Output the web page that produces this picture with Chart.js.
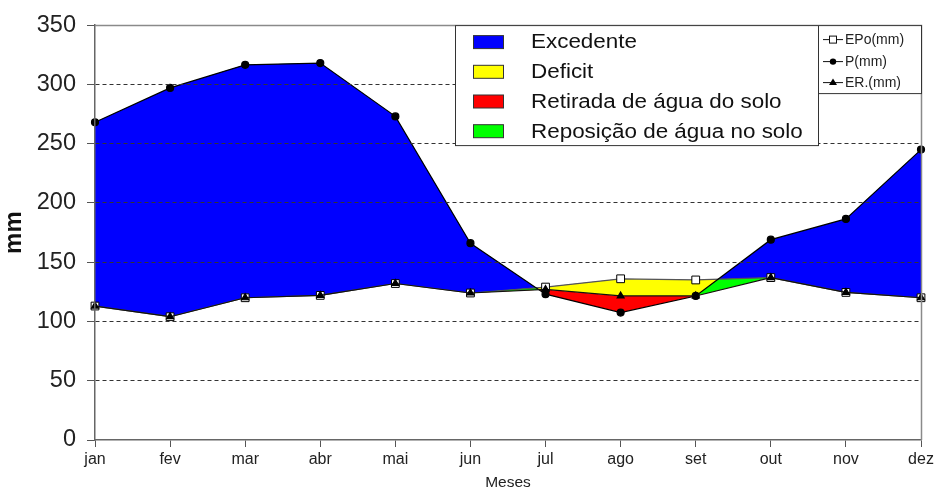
<!DOCTYPE html>
<html>
<head>
<meta charset="utf-8">
<script src="https://cdn.jsdelivr.net/npm/chart.js@4.4.1/dist/chart.umd.min.js"></script>
<style>
  html, body { margin: 0; padding: 0; background: #fff; }
  #wrap { width: 942px; height: 490px; }
</style>
</head>
<body>
<div id="wrap"><canvas id="c" width="942" height="490"></canvas></div>
<script>
// ---- data ----
const months = ['jan','fev','mar','abr','mai','jun','jul','ago','set','out','nov','dez'];
const epo = [113, 104, 120, 122, 132, 124, 129, 136, 135, 137, 124.5, 120];
const prec = [268, 297, 316.5, 318, 273, 166, 123, 107.5, 121.5, 169, 186.5, 245];
const er = [113, 104, 120, 122, 132, 124, 127, 121.5, 121.5, 137, 124.5, 120];
const lineLabels = ['EPo(mm)', 'P(mm)', 'ER.(mm)'];
const areaLabels = ['Excedente', 'Deficit', 'Retirada de água do solo', 'Reposição de água no solo'];
const areaColors = ['#0000ff', '#ffff00', '#ff0000', '#00ff00'];
const yTickValues = [0, 50, 100, 150, 200, 250, 300, 350];

const FONT = "'Liberation Sans', Arial, sans-serif";
const NONE = 'rgba(0,0,0,0)';

const framePlugin = {
  id: 'frame',
  afterDraw(chart) {
    const {ctx, chartArea: a} = chart;
    ctx.save();
    ctx.strokeStyle = '#8a8a8a';
    ctx.lineWidth = 1.5;
    ctx.beginPath();
    ctx.moveTo(a.left, a.top + 0.5);
    ctx.lineTo(a.right + 0.5, a.top + 0.5);
    ctx.lineTo(a.right + 0.5, a.bottom);
    ctx.stroke();

    // ---- left legend (areas) ----
    const bx = a.left + 360, by = a.top, bw = 363, bh = 120;
    ctx.fillStyle = '#fff';
    ctx.fillRect(bx, by, bw, bh);
    ctx.strokeStyle = '#333';
    ctx.lineWidth = 1;
    ctx.strokeRect(bx + 0.5, by + 0.5, bw, bh);
    areaLabels.forEach((lab, i) => {
      const cy = by + 17 + i * 29.7;
      ctx.fillStyle = areaColors[i];
      ctx.fillRect(bx + 18, cy - 6.5, 30, 13);
      ctx.strokeStyle = '#333';
      ctx.strokeRect(bx + 18.5, cy - 6.5, 30, 13);
      ctx.save();
      ctx.translate(bx + 76, cy);
      ctx.scale(1.15, 1);
      ctx.fillStyle = '#111';
      ctx.font = '19.5px ' + FONT;
      ctx.textBaseline = 'middle';
      ctx.textAlign = 'left';
      ctx.fillText(lab, 0, 1);
      ctx.restore();
    });

    // ---- right legend (lines) ----
    const rx = bx + bw, ry = a.top, rw = a.right - rx, rh = 68;
    ctx.fillStyle = '#fff';
    ctx.fillRect(rx, ry, rw, rh);
    ctx.strokeStyle = '#333';
    ctx.strokeRect(rx + 0.5, ry + 0.5, rw, rh);
    const rows = [ry + 14, ry + 36, ry + 57];
    const styles = ['rect', 'circle', 'triangle'];
    lineLabels.forEach((lab, i) => {
      const cy = rows[i];
      ctx.strokeStyle = '#111';
      ctx.lineWidth = 1;
      ctx.beginPath();
      ctx.moveTo(rx + 5, cy + 0.5);
      ctx.lineTo(rx + 25, cy + 0.5);
      ctx.stroke();
      const mx = rx + 15;
      if (styles[i] === 'rect') {
        ctx.fillStyle = '#fff';
        ctx.fillRect(mx - 3.5, cy - 3, 7, 7);
        ctx.strokeRect(mx - 3.5, cy - 3, 7, 7);
      } else if (styles[i] === 'circle') {
        ctx.fillStyle = '#000';
        ctx.beginPath();
        ctx.arc(mx, cy + 0.5, 3.2, 0, Math.PI * 2);
        ctx.fill();
      } else {
        ctx.fillStyle = '#000';
        ctx.beginPath();
        ctx.moveTo(mx, cy - 3.5);
        ctx.lineTo(mx + 4, cy + 3);
        ctx.lineTo(mx - 4, cy + 3);
        ctx.closePath();
        ctx.fill();
      }
      ctx.fillStyle = '#222';
      ctx.font = '14px ' + FONT;
      ctx.textBaseline = 'middle';
      ctx.textAlign = 'left';
      ctx.fillText(lab, rx + 27, cy + 1);
    });
    ctx.restore();
  }
};

new Chart(document.getElementById('c'), {
  type: 'line',
  data: {
    labels: months,
    datasets: [
      { label: lineLabels[0], data: epo, borderColor: '#555', borderWidth: 1.2, tension: 0,
        pointStyle: 'rect', pointRadius: 5.5, pointBackgroundColor: '#fff', pointBorderColor: '#000',
        pointBorderWidth: 1, fill: false, order: 2 },
      { label: lineLabels[1], data: prec, borderColor: '#000', borderWidth: 1.2, tension: 0,
        pointStyle: 'circle', pointRadius: 3.5, pointBackgroundColor: '#000', pointBorderColor: '#000',
        fill: false, order: 1 },
      { label: lineLabels[2], data: er, borderColor: '#111', borderWidth: 1.2, tension: 0,
        pointStyle: 'triangle', pointRadius: 4, pointBackgroundColor: '#000', pointBorderColor: '#000',
        fill: false, order: 0 },
      { label: areaLabels[0], data: prec, borderWidth: 0, pointRadius: 0, tension: 0,
        backgroundColor: areaColors[0], fill: { target: 0, above: areaColors[0], below: NONE }, order: 3 },
      { label: areaLabels[2], data: prec, borderWidth: 0, pointRadius: 0, tension: 0,
        backgroundColor: areaColors[2], fill: { target: 2, above: areaColors[3], below: areaColors[2] }, order: 4 },
      { label: areaLabels[1], data: er, borderWidth: 0, pointRadius: 0, tension: 0,
        backgroundColor: areaColors[1], fill: { target: 0, above: NONE, below: areaColors[1] }, order: 5 }
    ]
  },
  options: {
    responsive: false,
    animation: false,
    events: [],
    layout: { padding: { left: 0, right: 21, top: 16, bottom: 0 } },
    plugins: {
      legend: { display: false },
      tooltip: { enabled: false },
      filler: { drawTime: 'beforeDatasetsDraw', propagate: false }
    },
    scales: {
      x: {
        type: 'category',
        offset: false,
        grid: { drawOnChartArea: false, drawTicks: true, tickLength: 7, tickColor: '#555', tickWidth: 1 },
        border: { color: '#666', width: 1.5 },
        ticks: { font: { family: FONT, size: 16 }, color: '#222', padding: 3, maxRotation: 0, autoSkip: false },
        title: { display: true, text: 'Meses', font: { family: FONT, size: 15.5, lineHeight: 0.9 }, color: '#222', padding: 0 },
        afterFit(s) { s.height = 50; }
      },
      y: {
        min: 0, max: 350,
        afterBuildTicks(s) { s.ticks = yTickValues.map(v => ({ value: v })); },
        ticks: { font: { family: FONT, size: 23.5 }, color: '#222', padding: 11, z: 1 },
        grid: {
          z: 1,
          color: c => (c.tick && (c.tick.value === 0 || c.tick.value === 350)) ? NONE : '#333',
          tickColor: '#555', tickLength: 8, lineWidth: 1
        },
        border: { dash: [4, 3], color: '#666', width: 1.5, z: 2 },
        title: { display: true, text: 'mm', font: { family: FONT, size: 24, weight: 'bold' }, color: '#111', padding: 0 },
        afterFit(s) { s.width = 95; }
      }
    }
  },
  plugins: [framePlugin]
});
</script>
</body>
</html>
